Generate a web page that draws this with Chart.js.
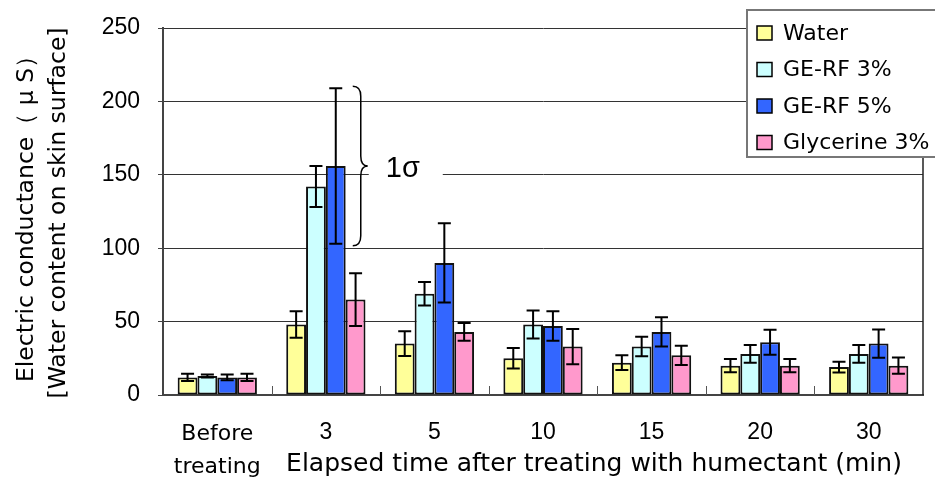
<!DOCTYPE html>
<html>
<head>
<meta charset="utf-8">
<script src="https://cdn.jsdelivr.net/npm/chart.js@4.4.0/dist/chart.umd.min.js"></script>
<style>
html, body { margin: 0; padding: 0; background: #fff; }
#wrap { width: 935px; height: 485px; }
</style>
</head>
<body>
<div id="wrap"><canvas id="myChart" width="935" height="485"></canvas></div>
<script>
var categories = [["Before", "treating"], "3", "5", "10", "15", "20", "30"];
var seriesNames = ["Water", "GE-RF 3%", "GE-RF 5%", "Glycerine 3%"];
var water = [12, 48, 35, 25, 22, 20, 19];
var geRf3 = [13, 142, 69, 48, 33, 28, 28];
var geRf5 = [12, 156, 90, 47, 43, 36, 35];
var glycerine = [12, 65, 43, 33, 27, 20, 20];
var waterErr = [2.5, 9, 8.5, 7, 5, 4.5, 3.6];
var geRf3Err = [1, 14, 8, 9.5, 6.6, 6, 6];
var geRf5Err = [2, 53, 27, 10, 10, 8.5, 9.7];
var glycerineErr = [2.5, 18, 6, 12, 6.6, 4.5, 5.5];
var yTicks = [0, 50, 100, 150, 200, 250];

var colors = ["#FFFF99", "#CCFFFF", "#3366FF", "#FF99CC"];
var values = [water, geRf3, geRf5, glycerine];
var errors = [waterErr, geRf3Err, geRf5Err, glycerineErr];
var FONT = "'Liberation Sans', Arial, sans-serif";
var WIDE = "'DejaVu Sans', sans-serif";

var extras = {
    id: 'extras',
    afterDatasetsDraw(chart) {
        var ctx = chart.ctx;
        var area = chart.chartArea;
        var xs = chart.scales.x;
        var ys = chart.scales.y;
        ctx.save();

        // small inside tick marks between categories
        var step = xs.getPixelForValue(1) - xs.getPixelForValue(0);
        ctx.strokeStyle = '#555';
        ctx.lineWidth = 1;
        for (var i = 1; i < categories.length; i++) {
            var bx = Math.round(xs.getPixelForValue(i) - step / 2) + 0.5;
            ctx.beginPath();
            ctx.moveTo(bx, area.bottom);
            ctx.lineTo(bx, area.bottom - 9);
            ctx.stroke();
        }

        // right border
        ctx.strokeStyle = '#222';
        ctx.lineWidth = 1.5;
        ctx.beginPath();
        ctx.moveTo(area.right, area.top);
        ctx.lineTo(area.right, area.bottom);
        ctx.stroke();

        // error bars
        ctx.strokeStyle = '#000';
        ctx.lineWidth = 2;
        values.forEach((vals, d) => {
            var meta = chart.getDatasetMeta(d);
            meta.data.forEach((bar, j) => {
                var yt = ys.getPixelForValue(vals[j] + errors[d][j]);
                var yb = ys.getPixelForValue(vals[j] - errors[d][j]);
                ctx.beginPath();
                ctx.moveTo(bar.x, yt);
                ctx.lineTo(bar.x, yb);
                ctx.moveTo(bar.x - 6.5, yt);
                ctx.lineTo(bar.x + 6.5, yt);
                ctx.moveTo(bar.x - 6.5, yb);
                ctx.lineTo(bar.x + 6.5, yb);
                ctx.stroke();
            });
        });

        // brace showing 1 sigma on GE-RF 5% at 3 min
        var b = chart.getDatasetMeta(2).data[1];
        var top = ys.getPixelForValue(geRf5[1] + geRf5Err[1]) - 2;
        var bot = ys.getPixelForValue(geRf5[1] - geRf5Err[1]) + 2;
        var mid = (top + bot) / 2;
        var x0 = b.x + 17, x1 = b.x + 25, x2 = b.x + 32;
        ctx.fillStyle = '#fff';
        ctx.fillRect(x2 + 1, ys.getPixelForValue(150) - 3, 74, 6);
        ctx.strokeStyle = '#000';
        ctx.lineWidth = 1.5;
        ctx.beginPath();
        ctx.moveTo(x0, top);
        ctx.quadraticCurveTo(x1, top, x1, top + 10);
        ctx.lineTo(x1, mid - 10);
        ctx.quadraticCurveTo(x1, mid, x2, mid);
        ctx.quadraticCurveTo(x1, mid, x1, mid + 10);
        ctx.lineTo(x1, bot - 10);
        ctx.quadraticCurveTo(x1, bot, x0, bot);
        ctx.stroke();
        ctx.fillStyle = '#000';
        ctx.font = "29px " + FONT;
        ctx.textAlign = 'left';
        ctx.textBaseline = 'alphabetic';
        ctx.fillText('1σ', x2 + 18, mid + 11);
        ctx.restore();
    },
    afterDraw(chart) {
        var ctx = chart.ctx;
        ctx.save();

        // legend box
        ctx.fillStyle = '#fff';
        ctx.fillRect(747, 10, 200, 147);
        ctx.strokeStyle = '#777';
        ctx.lineWidth = 2;
        ctx.strokeRect(747, 10, 200, 147);
        ctx.font = "22px " + WIDE;
        ctx.textBaseline = 'middle';
        ctx.textAlign = 'left';
        seriesNames.forEach((name, i) => {
            var cy = 33 + i * 36.5;
            ctx.fillStyle = colors[i];
            ctx.fillRect(757, cy - 7, 15, 14);
            ctx.strokeStyle = '#000';
            ctx.lineWidth = 1.5;
            ctx.strokeRect(757, cy - 7, 15, 14);
            ctx.fillStyle = '#000';
            ctx.fillText(name, 783, cy + 1);
        });

        // y axis title (two lines)
        ctx.font = "23.5px " + WIDE;
        ctx.textAlign = 'center';
        ctx.textBaseline = 'alphabetic';
        ctx.translate(33, 213);
        ctx.rotate(-Math.PI / 2);
        ctx.fillText('Electric conductance（ μ S）', 0, 0);
        ctx.fillText('[Water content on skin surface]', 0, 32);
        ctx.setTransform(1, 0, 0, 1, 0, 0);

        // x axis title
        ctx.font = "25px " + WIDE;
        ctx.textAlign = 'center';
        ctx.fillText('Elapsed time after treating with humectant (min)', 594, 471);
        ctx.restore();
    }
};

var ctx = document.getElementById('myChart').getContext('2d');
var myChart = new Chart(ctx, {
    type: 'bar',
    data: {
        labels: categories,
        datasets: seriesNames.map((name, i) => ({
            label: name,
            data: values[i],
            backgroundColor: colors[i],
            borderColor: '#111',
            borderWidth: 2,
            borderSkipped: false,
            categoryPercentage: 0.73,
            barPercentage: 1.0
        }))
    },
    options: {
        responsive: false,
        animation: false,
        devicePixelRatio: 1,
        layout: { padding: { left: 0, right: 12, top: 28, bottom: 0 } },
        plugins: {
            legend: { display: false },
            tooltip: { enabled: false }
        },
        scales: {
            x: {
                offset: true,
                grid: { display: false },
                border: { color: '#444', width: 2 },
                ticks: {
                    color: '#000',
                    font: (c) => c.index === 0
                        ? { family: WIDE, size: 22, lineHeight: 1.5 }
                        : { family: FONT, size: 23, lineHeight: 1.26 },
                    padding: 15,
                    maxRotation: 0,
                    autoSkip: false
                },
                afterFit: (s) => { s.height = 90; }
            },
            y: {
                min: 0,
                max: 250,
                afterBuildTicks: (s) => { s.ticks = yTicks.map(v => ({ value: v })); },
                grid: { color: '#333', lineWidth: 1, tickLength: 5, tickColor: '#444' },
                border: { color: '#444', width: 2 },
                ticks: {
                    color: '#000',
                    font: { family: FONT, size: 23 },
                    padding: 18
                },
                afterFit: (s) => {
                    s.width = 163;
                    s.paddingTop = 0;
                    s.paddingBottom = 0;
                }
            }
        }
    },
    plugins: [extras]
});
</script>
</body>
</html>
